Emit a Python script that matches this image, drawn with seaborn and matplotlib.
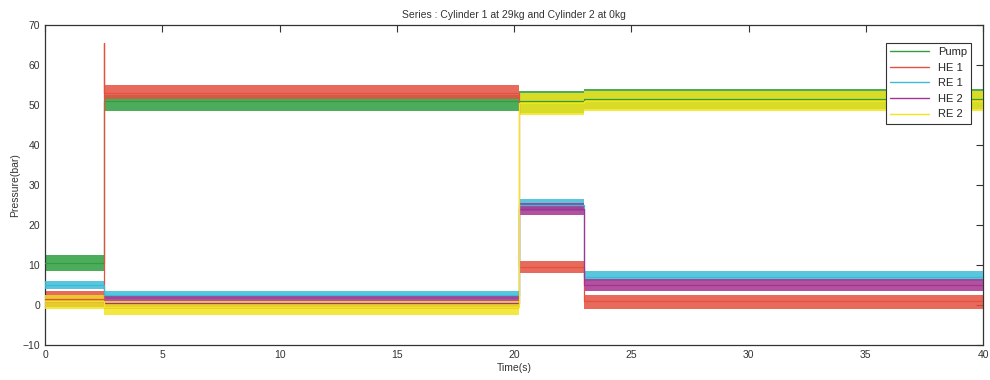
import numpy as np
import pandas as pd
import matplotlib
matplotlib.use("Agg")
import matplotlib.pyplot as plt
import seaborn as sns
from matplotlib.lines import Line2D

# ---- data (segment levels and dense noise spread) ----
seg_edges = [0.0, 2.5, 20.2, 23.0, 40.0]   # seconds
series = ["Pump", "HE 1", "RE 1", "HE 2", "RE 2"]

pump_mean = [10.5, 51.0, 51.0, 51.5]
pump_lo   = [8.5, 48.5, 48.0, 49.0]
pump_hi   = [12.5, 52.5, 53.5, 54.0]

he1_mean = [1.5, 53.0, 9.5, 1.0]
he1_lo   = [-0.5, 51.5, 8.0, -1.0]
he1_hi   = [3.5, 55.0, 11.0, 2.5]
he1_spike = 65.5   # peak at the 2.5 s step

re1_mean = [5.0, 2.5, 25.0, 7.0]
re1_lo   = [4.0, 1.5, 23.5, 6.0]
re1_hi   = [6.0, 3.5, 26.5, 8.5]

he2_mean = [1.0, 0.5, 24.0, 5.0]
he2_lo   = [-0.5, -1.0, 22.5, 3.5]
he2_hi   = [2.5, 2.5, 25.5, 6.5]

re2_mean = [1.0, -0.5, 50.5, 51.0]
re2_lo   = [-1.0, -2.5, 47.5, 48.5]
re2_hi   = [2.5, 1.0, 53.0, 53.5]

colors = {"Pump": "#2e9e3e", "HE 1": "#e5503f", "RE 1": "#3bbcd6",
          "HE 2": "#a6328f", "RE 2": "#f2e51e"}

means = {"Pump": pump_mean, "HE 1": he1_mean, "RE 1": re1_mean,
         "HE 2": he2_mean, "RE 2": re2_mean}
los = {"Pump": pump_lo, "HE 1": he1_lo, "RE 1": re1_lo,
       "HE 2": he2_lo, "RE 2": re2_lo}
his = {"Pump": pump_hi, "HE 1": he1_hi, "RE 1": re1_hi,
       "HE 2": he2_hi, "RE 2": re2_hi}

def step_xy(vals):
    x = np.repeat(seg_edges, 2)[1:-1]
    y = np.repeat(vals, 2)
    return x, y

rows = []
for s in series:
    x, y = step_xy(means[s])
    if s == "HE 1":
        x = np.insert(x, 2, seg_edges[1])
        y = np.insert(y, 2, he1_spike)
    for xi, yi in zip(x, y):
        rows.append({"t": xi, "p": yi, "series": s})
df = pd.DataFrame(rows)

sns.set_style("white")
plt.rcParams["font.family"] = ["Liberation Sans", "DejaVu Sans"]

fig = plt.figure(figsize=(9.9, 3.8), dpi=100)
ax = fig.add_axes([0.0455, 0.092, 0.9475, 0.842])

for k, s in enumerate(series):
    x, lo = step_xy(los[s])
    _, hi = step_xy(his[s])
    ax.fill_between(x, lo, hi, color=colors[s], alpha=0.85, linewidth=0,
                    zorder=1 + k)

sns.lineplot(data=df, x="t", y="p", hue="series", palette=colors,
             sort=False, estimator=None, units="series", linewidth=0.9,
             ax=ax, legend=False, zorder=10)

ax.set_xlim(0, 40)
ax.set_ylim(-10, 70)
ax.set_xticks(range(0, 41, 5))
ax.set_yticks(range(-10, 71, 10))
ax.tick_params(direction="in", length=5, labelsize=7.5, colors="#333333",
               top=True, right=True, width=0.8)
for sp in ax.spines.values():
    sp.set_color("#333333")
    sp.set_linewidth(0.9)
ax.set_xlabel("Time(s)", fontsize=7.5, color="#333333", labelpad=2)
ax.set_ylabel("Pressure(bar)", fontsize=7.5, color="#333333", labelpad=2)
ax.set_title("Series : Cylinder 1 at 29kg and Cylinder 2 at 0kg",
             fontsize=7.5, color="#333333", pad=5)

handles = [Line2D([], [], color=colors[s], lw=1) for s in series]
leg = ax.legend(handles, series, loc="upper right", fontsize=8,
                frameon=True, fancybox=False, framealpha=1.0,
                handlelength=3.5, borderpad=0.4, labelspacing=0.5,
                bbox_to_anchor=(0.9935, 0.962))
leg.get_frame().set_edgecolor("#333333")
leg.get_frame().set_facecolor("white")
leg.get_frame().set_linewidth(0.8)
leg.set_zorder(20)

fig.savefig("out.png", dpi=100, facecolor="white")
